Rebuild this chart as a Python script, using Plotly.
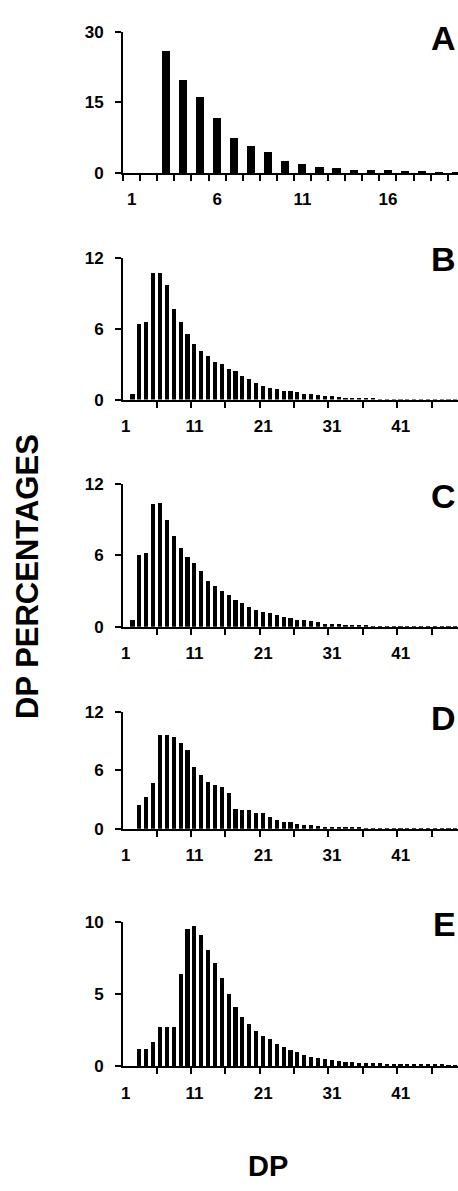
import plotly.graph_objects as go

# ---------------- data ----------------
dp_a = list(range(1, 21))
pct_a = [0, 0, 26.0, 19.8, 16.2, 11.7, 7.5, 5.8, 4.4, 2.65, 1.95, 1.2, 1.1, 0.7,
         0.7, 0.65, 0.45, 0.4, 0.15, 0.1]

dp_be = list(range(1, 51))
pct_b = [0, 0.45, 6.4, 6.55, 10.75, 10.75, 9.75, 7.65, 6.55, 5.55,
         4.75, 4.15, 3.7, 3.2, 3.0, 2.6, 2.45, 2.0, 1.75, 1.45,
         1.2, 1.0, 0.9, 0.75, 0.75, 0.65, 0.5, 0.45, 0.38, 0.35,
         0.3, 0.2, 0.18, 0.15, 0.13, 0.12, 0.08, 0.06, 0.05, 0.05,
         0.04, 0.04, 0.03, 0.03, 0.02, 0.02, 0.02, 0.01, 0.01, 0.01]
pct_c = [0, 0.63, 6.06, 6.2, 10.3, 10.4, 9.0, 7.6, 6.6, 5.9,
         5.4, 4.7, 3.9, 3.45, 3.0, 2.67, 2.3, 2.0, 1.7, 1.46,
         1.3, 1.2, 1.0, 0.85, 0.75, 0.6, 0.58, 0.47, 0.44, 0.3,
         0.28, 0.25, 0.2, 0.15, 0.15, 0.14, 0.12, 0.1, 0.1, 0.09,
         0.08, 0.07, 0.07, 0.06, 0.06, 0.05, 0.05, 0.05, 0.04, 0.04]
pct_d = [0, 0, 2.4, 3.27, 4.65, 9.65, 9.65, 9.45, 8.8, 8.1,
         6.35, 5.5, 4.8, 4.45, 4.3, 3.62, 2.05, 1.9, 1.9, 1.6,
         1.58, 1.19, 0.88, 0.71, 0.68, 0.5, 0.37, 0.34, 0.24, 0.17,
         0.12, 0.1, 0.1, 0.08, 0.07, 0.05, 0.04, 0.03, 0.03, 0.02,
         0.02, 0.02, 0.01, 0.01, 0.01, 0.01, 0.01, 0.01, 0.01, 0.01]
pct_e = [0, 0, 1.16, 1.16, 1.64, 2.72, 2.72, 2.72, 6.4, 9.54,
         9.73, 9.1, 8.04, 7.15, 6.07, 5.02, 4.1, 3.42, 2.92, 2.44,
         2.1, 1.83, 1.53, 1.3, 1.07, 0.94, 0.75, 0.6, 0.5, 0.43,
         0.37, 0.3, 0.28, 0.25, 0.22, 0.2, 0.18, 0.18, 0.12, 0.09,
         0.08, 0.07, 0.06, 0.06, 0.05, 0.05, 0.05, 0.04, 0.04, 0.04]

panel_names = ["A", "B", "C", "D", "E"]
xlabels_a = [1, 6, 11, 16]
xlabels_be = [1, 11, 21, 31, 41]
yticks = [[0, 15, 30], [0, 6, 12], [0, 6, 12], [0, 6, 12], [0, 5, 10]]

# ---------------- layout geometry (pixels) ----------------
W, H = 458, 1191
x_left = 121.7
# (top of y axis, zero line) in pixels from top
panel_px = [(23.3, 166.7), (252.8, 396.9), (482.3, 627.7), (714.5, 833.0), (928.3, 1074.3)]
letter_y = [29, 254, 495, 721, 930]

series = [
    (dp_a, pct_a, 0.48, [0.5, 20.1], xlabels_a, [d - 0.5 for d in dp_a]),
    (dp_be, pct_b, 0.6, [0.62, 49.35], xlabels_be, [d + 0.5 for d in dp_be if d % 5 == 0]),
    (dp_be, pct_c, 0.6, [0.62, 49.35], xlabels_be, [d + 0.5 for d in dp_be if d % 5 == 0]),
    (dp_be, pct_d, 0.6, [0.62, 49.35], xlabels_be, [d + 0.5 for d in dp_be if d % 5 == 0]),
    (dp_be, pct_e, 0.6, [0.62, 49.35], xlabels_be, [d + 0.5 for d in dp_be if d % 5 == 0]),
]

FONT = "Liberation Sans, Arial, sans-serif"
tickfont = dict(family=FONT, size=17, color="black", weight="bold")

fig = go.Figure()
layout = dict(
    width=W, height=H,
    margin=dict(l=0, r=0, t=0, b=0),
    paper_bgcolor="white", plot_bgcolor="white",
    showlegend=False, bargap=0,
)
annotations = []

for i, (xs, ys, bw, xr, xl, minor_vals) in enumerate(series):
    n = "" if i == 0 else str(i + 1)
    top, bot = panel_px[i]
    fig.add_trace(go.Bar(
        x=xs, y=ys, width=bw,
        marker=dict(color="black", line=dict(width=0)),
        xaxis="x" + n, yaxis="y" + n,
        hoverinfo="x+y",
    ))
    layout["xaxis" + n] = dict(
        domain=[x_left / W, 1.0], range=xr, anchor="y" + n,
        showline=True, linecolor="black", linewidth=2,
        showgrid=False, zeroline=False,
        tickmode="array", tickvals=xl, ticktext=[str(v) for v in xl],
        ticks="", ticklabelstandoff=10, tickfont=tickfont,
        minor=dict(tickmode="array", tickvals=minor_vals, ticks="outside",
                   ticklen=6, tickwidth=2, tickcolor="black", showgrid=False),
    )
    yt = yticks[i]
    layout["yaxis" + n] = dict(
        domain=[1 - bot / H, 1 - top / H], range=[0, yt[-1]], anchor="x" + n,
        showline=True, linecolor="black", linewidth=2,
        showgrid=False, zeroline=False,
        tickmode="array", tickvals=yt, ticktext=[str(v) for v in yt],
        ticks="outside", ticklen=6, tickwidth=2, tickcolor="black",
        ticklabelstandoff=8, tickfont=tickfont,
    )
    annotations.append(dict(
        text=panel_names[i], xref="paper", yref="paper",
        x=1.0, y=1 - letter_y[i] / H, xanchor="right", yanchor="middle",
        showarrow=False, font=dict(family=FONT, size=34, color="black", weight="bold"),
    ))

annotations.append(dict(
    text="DP PERCENTAGES", xref="paper", yref="paper",
    x=25.8 / W, y=1 - 576.5 / H, xanchor="center", yanchor="middle",
    textangle=-90, showarrow=False,
    font=dict(family=FONT, size=31, color="black", weight="bold"),
))
annotations.append(dict(
    text="DP", xref="paper", yref="paper",
    x=267.5 / W, y=1 - 1176 / H, xanchor="center", yanchor="middle",
    showarrow=False,
    font=dict(family=FONT, size=29, color="black", weight="bold"),
))
layout["annotations"] = annotations
fig.update_layout(**layout)
fig.write_html("out.html")
